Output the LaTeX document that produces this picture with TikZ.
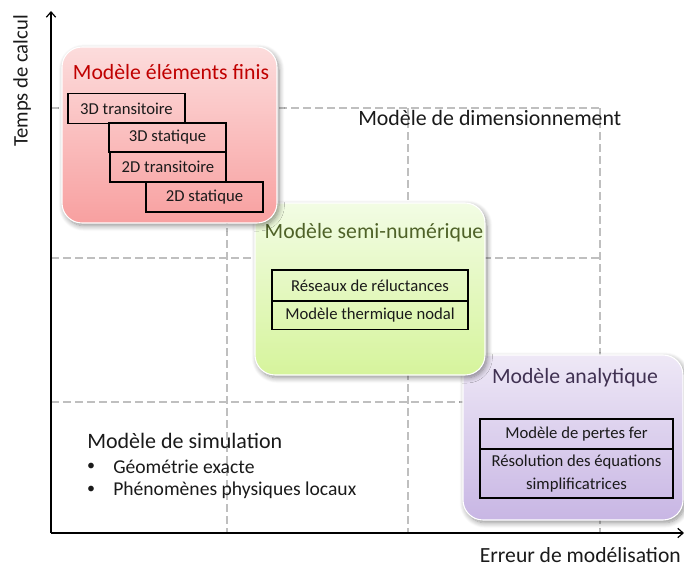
\documentclass[tikz,border=0pt]{standalone}
\usepackage{fontspec}
\setmainfont{Carlito}
\usetikzlibrary{shadows.blur,arrows.meta}
\definecolor{gridc}{HTML}{BFBFBF}
\definecolor{redt}{HTML}{C00000}
\definecolor{greent}{HTML}{4F6228}
\definecolor{purplet}{HTML}{403152}
\definecolor{txt}{HTML}{1A1A1A}
\tikzset{
  px/.style={x=0.75pt,y=-0.75pt},
  gridline/.style={gridc,dash pattern=on 6pt off 3pt,line width=0.8pt},
  axis/.style={line width=0.9pt,-{Straight Barb[length=4pt,width=7pt]}},
  group/.style={rounded corners=15pt,draw=white,line width=0.8pt,inner sep=0pt,
    blur shadow={shadow xshift=1.5pt,shadow yshift=-2pt,shadow blur radius=4pt,shadow blur steps=8,shadow opacity=45}},
  sub/.style={draw=black,line width=0.8pt,inner sep=0pt,font=\fontsize{12.5}{14}\selectfont,text=txt,align=center},
  title/.style={font=\fontsize{16.3}{19}\selectfont,inner sep=0pt},
  label/.style={font=\fontsize{16}{18}\selectfont,inner sep=0pt,text=txt},
}
\newcommand{\pxl}[1]{#1*0.75pt}
\begin{document}
\begin{tikzpicture}[px]
\useasboundingbox (0,0) rectangle (684,567);
% grid
\coordinate (h1a) at (51,108); \coordinate (h1b) at (600,108);
\coordinate (h2a) at (51,258); \coordinate (h2b) at (600,258);
\coordinate (h3a) at (51,402); \coordinate (h3b) at (600,402);
\coordinate (v1a) at (227,108); \coordinate (v1b) at (227,533);
\coordinate (v2a) at (408,108); \coordinate (v2b) at (408,533);
\coordinate (v3a) at (600,108); \coordinate (v3b) at (600,533);
\draw[gridline] (h1a) -- (h1b); \draw[gridline] (h2a) -- (h2b); \draw[gridline] (h3a) -- (h3b);
\draw[gridline] (v1a) -- (v1b); \draw[gridline] (v2a) -- (v2b); \draw[gridline] (v3a) -- (v3b);
% axes
\coordinate (O) at (51,533);
\coordinate (Ytop) at (51,11);
\coordinate (Xend) at (684,533);
\draw[axis] (O) -- (Ytop);
\draw[axis] (O) -- (Xend);
\node[label,font=\fontsize{15.5}{18}\selectfont,rotate=90] (ylab) at (22,81) {Temps de calcul};
\node[label,font=\fontsize{16.2}{18}\selectfont,anchor=base east] (xlab) at (681,562) {Erreur de modélisation};
% texts
\node[label,font=\fontsize{16.4}{18}\selectfont,anchor=west] (dim) at (358,118) {Modèle de dimensionnement};
\node[label,font=\fontsize{16.5}{18}\selectfont,anchor=west] (sim) at (87,441) {Modèle de simulation};
\node[label,font=\fontsize{12}{16}\selectfont] (b1) at (91,467) {•};
\node[label,font=\fontsize{14.7}{16}\selectfont,anchor=west] (t1) at (113,467) {Géométrie exacte};
\node[label,font=\fontsize{12}{16}\selectfont] (b2) at (91,490) {•};
\node[label,font=\fontsize{14.7}{16}\selectfont,anchor=west] (t2) at (113,490) {Phénomènes physiques locaux};
% purple group
\node[group,top color={rgb,255:red,238;green,232;blue,246},bottom color={rgb,255:red,200;green,182;blue,228},
  minimum width=\pxl{220},minimum height=\pxl{165}] (ana) at (573,437.5) {};
\node[title,text=purplet] (anat) at (575,378) {Modèle analytique};
\node[sub,minimum width=\pxl{193},minimum height=\pxl{30}] (pf) at (576.5,434) {Modèle de pertes fer};
\node[sub,minimum width=\pxl{193},minimum height=\pxl{49},font=\fontsize{12.5}{17}\selectfont] (res) at (576.5,473.5) {Résolution des équations\\simplificatrices};
% green group
\node[group,top color={rgb,255:red,242;green,252;blue,228},bottom color={rgb,255:red,214;green,244;blue,156},
  minimum width=\pxl{230},minimum height=\pxl{172}] (semi) at (370,289) {};
\node[title,text=greent] (semit) at (374,233) {Modèle semi-numérique};
\node[sub,minimum width=\pxl{196},minimum height=\pxl{31}] (rr) at (370,285.5) {Réseaux de réluctances};
\node[sub,minimum width=\pxl{196},minimum height=\pxl{29}] (mtn) at (370,315) {Modèle thermique nodal};
% red group
\node[group,top color={rgb,255:red,252;green,220;blue,220},bottom color={rgb,255:red,248;green,160;blue,160},
  minimum width=\pxl{215},minimum height=\pxl{176}] (ef) at (169.5,135) {};
\node[title,text=redt] (eft) at (171,72) {Modèle éléments finis};
\node[sub,minimum width=\pxl{117},minimum height=\pxl{30}] (tt3) at (126.5,108.5) {3D transitoire};
\node[sub,minimum width=\pxl{117},minimum height=\pxl{29}] (st3) at (167.5,137.5) {3D statique};
\node[sub,minimum width=\pxl{116},minimum height=\pxl{30}] (tt2) at (168,167) {2D transitoire};
\node[sub,minimum width=\pxl{117},minimum height=\pxl{30}] (st2) at (204.5,197) {2D statique};
\end{tikzpicture}
\end{document}
